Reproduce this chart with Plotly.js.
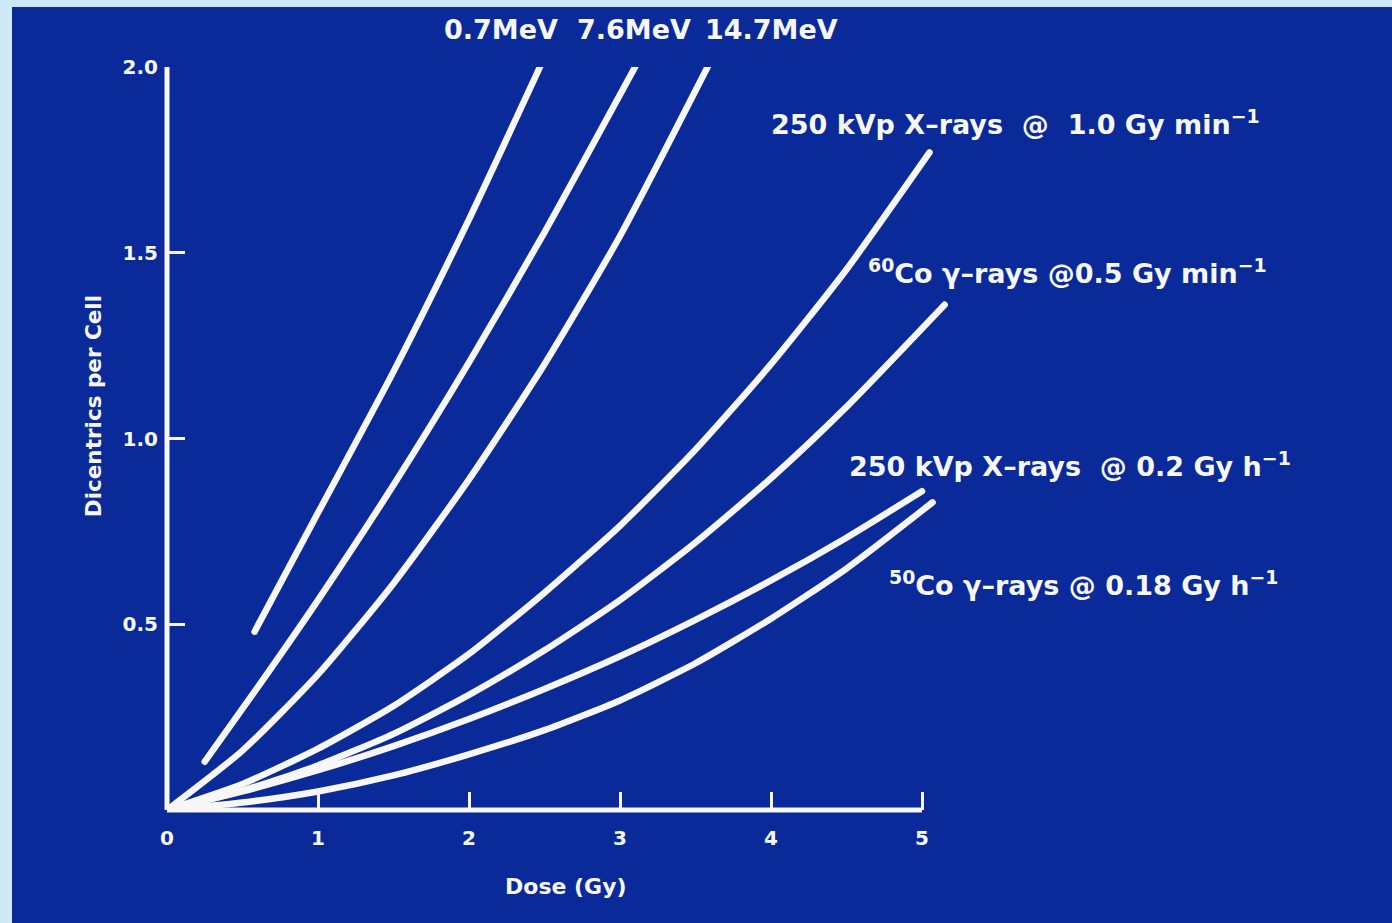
<!DOCTYPE html>
<html>
<head>
<meta charset="utf-8">
<script src="https://cdn.plot.ly/plotly-3.0.1.min.js"></script>
<style>
html,body{margin:0;padding:0;background:#cde9f7;overflow:hidden;width:1392px;height:923px}
#chart{position:absolute;left:12px;top:7px;width:1380px;height:916px}
.scatterlayer path.js-line{stroke-linecap:round}
</style>
</head>
<body>
<div id="chart"></div>
<script>
// ---- data (Dose in Gy, dicentrics per cell) ----
const dose_07MeV = [0.58, 1.0, 1.5, 2.0, 2.47];
const dic_07MeV  = [0.48, 0.80, 1.18, 1.59, 2.0];

const dose_76MeV = [0.25, 0.6, 1.0, 1.5, 2.0, 2.5, 3.1];
const dic_76MeV  = [0.13, 0.33, 0.565, 0.875, 1.205, 1.555, 2.0];

const dose_147MeV = [0.0, 0.5, 1.0, 1.5, 2.0, 2.5, 3.0, 3.58];
const dic_147MeV  = [0.0, 0.16, 0.365, 0.61, 0.89, 1.20, 1.545, 2.0];

const dose_xray_fast = [0, 0.5, 1, 1.5, 2, 2.5, 3, 3.5, 4, 4.5, 5.05];
const dic_xray_fast  = [0, 0.07, 0.165, 0.28, 0.42, 0.585, 0.765, 0.97, 1.20, 1.455, 1.77];

const dose_co_fast = [0, 0.5, 1, 1.5, 2, 2.5, 3, 3.5, 4, 4.5, 5.15];
const dic_co_fast  = [0, 0.052, 0.12, 0.205, 0.31, 0.43, 0.565, 0.72, 0.893, 1.085, 1.36];

const dose_xray_slow = [0, 0.5, 1, 1.5, 2, 2.5, 3, 3.5, 4, 4.5, 5.0];
const dic_xray_slow  = [0, 0.05, 0.107, 0.172, 0.245, 0.326, 0.414, 0.512, 0.618, 0.733, 0.858];

const dose_co_slow = [0, 0.5, 1, 1.5, 2, 2.5, 3, 3.5, 4, 4.5, 5.07];
const dic_co_slow  = [0, 0.02, 0.05, 0.093, 0.15, 0.215, 0.295, 0.395, 0.515, 0.65, 0.828];

const xTickVals = [0, 1, 2, 3, 4, 5];
const xTickText = ['0', '1', '2', '3', '4', '5'];
const yTickVals = [0.5, 1.0, 1.5, 2.0];
const yTickText = ['0.5', '1.0', '1.5', '2.0'];

const doseAxisMax = 5;
const xRange = [0, 8];
const yRange = [0, 2];

const WHITE = '#f7f7f7';
const FONT = 'DejaVu Sans, Liberation Sans, Arial, sans-serif';

function curve(x, y) {
  return {x: x, y: y, type: 'scatter', mode: 'lines',
          line: {color: WHITE, width: 6.5, shape: 'spline', smoothing: 0.6},
          hoverinfo: 'skip', showlegend: false};
}

const traces = [
  curve(dose_07MeV, dic_07MeV),
  curve(dose_76MeV, dic_76MeV),
  curve(dose_147MeV, dic_147MeV),
  curve(dose_xray_fast, dic_xray_fast),
  curve(dose_co_fast, dic_co_fast),
  curve(dose_xray_slow, dic_xray_slow),
  curve(dose_co_slow, dic_co_slow)
];

const labFont = {family: FONT, size: 27, color: WHITE, weight: 'bold'};
const nb = '\u00a0';
// convert a position in axis units to paper units (so labels outside the range are still drawn)
const px = x => (x - xRange[0]) / (xRange[1] - xRange[0]);
const py = y => (y - yRange[0]) / (yRange[1] - yRange[0]);

function lab(text, x, y, xanchor) {
  return {text: text, x: px(x), y: py(y), xref: 'paper', yref: 'paper', xanchor: xanchor || 'left',
          yanchor: 'middle', showarrow: false, font: labFont};
}

const annotations = [
  lab('0.7MeV', 2.21, 2.10, 'center'),
  lab('7.6MeV', 3.09, 2.10, 'center'),
  lab('14.7MeV', 4.00, 2.10, 'center'),
  lab('250 kVp X–rays' + nb + nb + '@' + nb + nb + '1.0 Gy min<sup>−1</sup>', 3.99, 1.85),
  lab('<sup>60</sup>Co γ–rays @0.5 Gy min<sup>−1</sup>', 4.63, 1.45),
  lab('250 kVp X–rays' + nb + nb + '@ 0.2 Gy h<sup>−1</sup>', 4.50, 0.93),
  lab('<sup>50</sup>Co γ–rays @ 0.18 Gy h<sup>−1</sup>', 4.77, 0.61),
  {text: 'Dicentrics per Cell', x: px(-0.49), y: py(1.087), xref: 'paper', yref: 'paper',
   xanchor: 'center', yanchor: 'middle', textangle: -90,
   showarrow: false, font: {family: FONT, size: 21.5, color: WHITE, weight: 'bold'}},
  {text: 'Dose (Gy)', x: px(2.64), y: py(-0.205), xref: 'paper', yref: 'paper',
   xanchor: 'center', yanchor: 'middle',
   showarrow: false, font: {family: FONT, size: 22, color: WHITE, weight: 'bold'}}
];

const layout = {
  width: 1380, height: 916,
  margin: {l: 155, r: 17, t: 60, b: 113},
  paper_bgcolor: '#0a2a99',
  plot_bgcolor: 'rgba(0,0,0,0)',
  showlegend: false,
  xaxis: {range: xRange, showgrid: false, zeroline: false, showline: false,
          tickmode: 'array', tickvals: xTickVals, ticktext: xTickText,
          ticks: 'inside', ticklen: 18, tickwidth: 3, tickcolor: WHITE,
          ticklabelstandoff: 14,
          tickfont: {family: FONT, size: 20, color: WHITE, weight: 'bold'}},
  yaxis: {range: yRange, showgrid: false, zeroline: false, showline: false,
          tickmode: 'array', tickvals: yTickVals, ticktext: yTickText,
          ticks: 'inside', ticklen: 18, tickwidth: 3, tickcolor: WHITE,
          ticklabelstandoff: 8,
          tickfont: {family: FONT, size: 20, color: WHITE, weight: 'bold'}},
  shapes: [
    {type: 'line', xref: 'paper', yref: 'paper',
     x0: 0, x1: px(doseAxisMax), y0: 0, y1: 0, line: {color: WHITE, width: 5}},
    {type: 'line', xref: 'paper', yref: 'paper',
     x0: 0, x1: 0, y0: 0, y1: 1, line: {color: WHITE, width: 5}}
  ],
  annotations: annotations
};

Plotly.newPlot('chart', traces, layout, {staticPlot: true, displayModeBar: false});
</script>
</body>
</html>
